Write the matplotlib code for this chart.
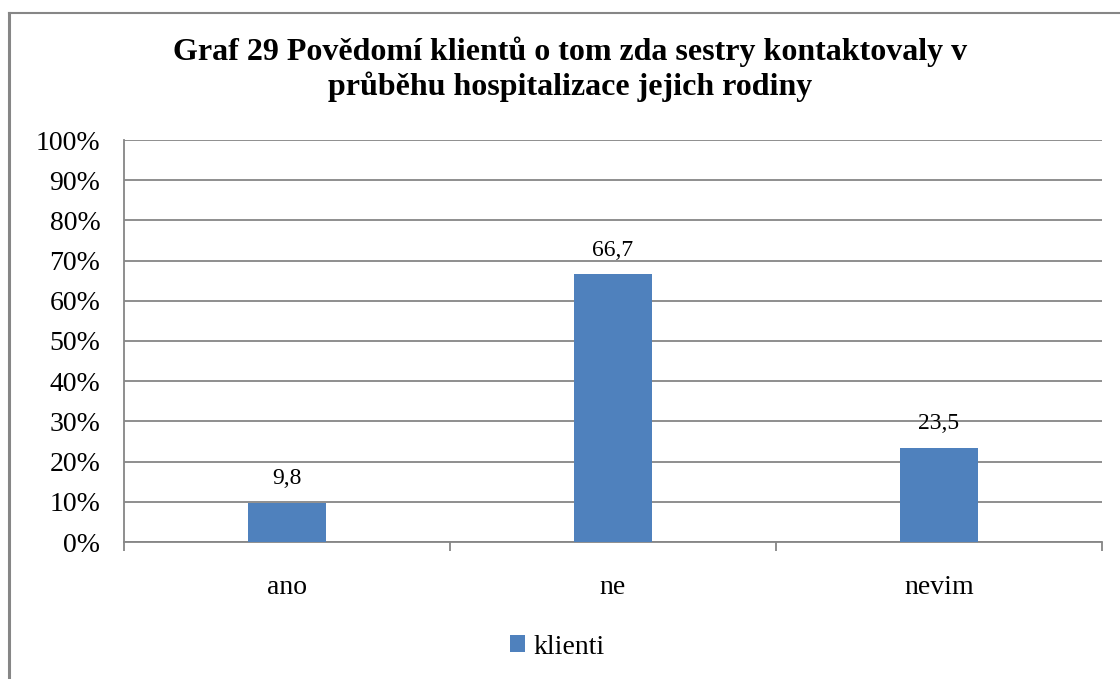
#!/usr/bin/env python3
import matplotlib
matplotlib.use("Agg")
import matplotlib.pyplot as plt
from matplotlib.lines import Line2D
from matplotlib.ticker import PercentFormatter

# data
categories = ["ano", "ne", "nevim"]
klienti = [9.8, 66.7, 23.5]
value_labels = ["9,8", "66,7", "23,5"]
title = "Graf 29 Povědomí klientů o tom zda sestry kontaktovaly v\nprůběhu hospitalizace jejich rodiny"

W, H = 1120, 679
GRID = "#868686"
BAR = "#4F81BD"

plt.rcParams["font.family"] = ["Liberation Serif", "DejaVu Serif"]

fig = plt.figure(figsize=(W / 100, H / 100), dpi=100)
ax = fig.add_axes([124 / W, (H - 542) / H, 978 / W, 402 / H])

x = list(range(len(categories)))
bars = ax.bar(x, klienti, width=0.24, color=BAR, edgecolor="none", zorder=3,
              label="klienti")

for rect, lab in zip(bars, value_labels):
    ax.annotate(lab, (rect.get_x() + rect.get_width() / 2, rect.get_height()),
                xytext=(0, 9.5), textcoords="offset points",
                ha="center", va="bottom", fontsize=17)

ax.set_xlim(-0.5, len(categories) - 0.5)
ax.set_ylim(0, 100)
ax.set_yticks(range(0, 101, 10))
ax.yaxis.set_major_formatter(PercentFormatter(decimals=0))
ax.tick_params(axis="y", length=0, pad=17, labelsize=20)
ax.grid(axis="y", color=GRID, linewidth=1.3, zorder=0)

ax.set_xticks(x)
ax.set_xticklabels(categories)
ax.tick_params(axis="x", which="major", length=0, pad=24, labelsize=20)
ax.set_xticks([i - 0.5 for i in range(len(categories) + 1)], minor=True)
ax.tick_params(axis="x", which="minor", length=6.5, width=1.3, color=GRID)

for s in ["top", "right"]:
    ax.spines[s].set_visible(False)
ax.spines["left"].set_color(GRID)
ax.spines["bottom"].set_color(GRID)
ax.spines["left"].set_linewidth(1.3)
ax.spines["bottom"].set_linewidth(1.3)

fig.text(570 / W, 1 - 69 / H, title, ha="center", va="center",
         fontsize=23, fontweight="bold", linespacing=1.2)

fig.legend(loc="center", bbox_to_anchor=(557 / W, 1 - 647 / H), frameon=False,
           fontsize=20, handlelength=0.55, handleheight=0.55, handletextpad=0.3)

# chart border (left and top edges visible)
fig.add_artist(Line2D([9 / W, 9 / W], [0, 1 - 13 / H], transform=fig.transFigure,
                      color=GRID, linewidth=2.2))
fig.add_artist(Line2D([9 / W, 1], [1 - 13 / H, 1 - 13 / H], transform=fig.transFigure,
                      color=GRID, linewidth=1.5))

fig.savefig("out.png", dpi=100)
